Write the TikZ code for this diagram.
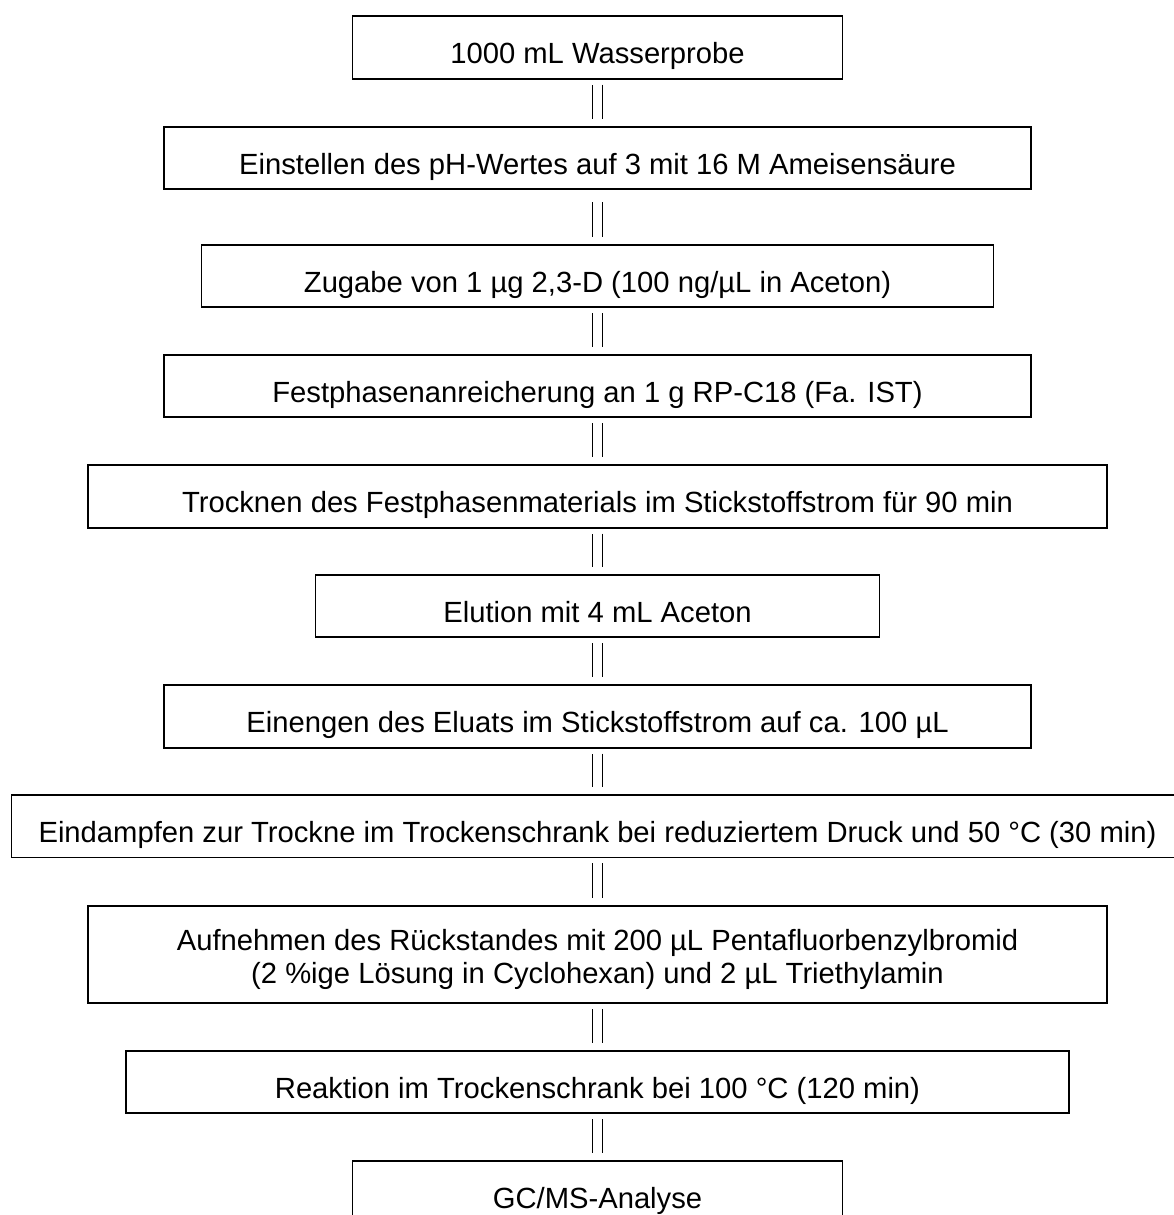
\documentclass[tikz,border=0pt]{standalone}
\usepackage{fontspec}
\setmainfont{Liberation Sans}

\tikzset{
    schritt/.style={draw, line width=1.7pt, minimum height=62.5pt, inner sep=0pt,
        text height=32pt, text depth=0pt, font=\fontsize{29.2}{32.6}\selectfont},
    fluss/.style={double, double distance=9.7pt, line width=1pt, shorten <=5pt, shorten >=7pt}
}

\begin{document}
\begin{tikzpicture}[x=1pt, y=-1pt]
    \useasboundingbox (0,0) rectangle (1174,1215);
    \clip (0,0) rectangle (1174,1215);

    % Arbeitsschritte
    \node[schritt, minimum width=490pt] (probe) at (597.5, 47.4) {1000 mL Wasserprobe};
    \node[schritt, minimum width=867pt] (ph) at (597.5, 158) {Einstellen des pH-Wertes auf 3 mit 16 M Ameisensäure};
    \node[schritt, minimum width=792pt] (zugabe) at (597.5, 276) {Zugabe von 1 µg 2,3-D (100 ng/µL in Aceton)};
    \node[schritt, minimum width=867pt] (spe) at (597.5, 386) {Festphasenanreicherung an 1 g RP-C18 (Fa. IST)};
    \node[schritt, minimum width=1019pt] (trocknen) at (597.5, 496.5) {Trocknen des Festphasenmaterials im Stickstoffstrom für 90 min};
    \node[schritt, minimum width=564pt] (elution) at (597.5, 606) {Elution mit 4 mL Aceton};
    \node[schritt, minimum width=867pt] (einengen) at (597.5, 716.5) {Einengen des Eluats im Stickstoffstrom auf ca. 100 µL};
    \node[schritt, minimum width=1172pt] (eindampfen) at (597.5, 826.3) {Eindampfen zur Trockne im Trockenschrank bei reduziertem Druck und 50 °C (30 min)};
    \node[schritt, minimum width=1019pt, minimum height=97pt, align=center, text height=58pt] (aufnehmen) at (597.5, 954.5)
        {Aufnehmen des Rückstandes mit 200 µL Pentafluorbenzylbromid\\(2 \%ige Lösung in Cyclohexan) und 2 µL Triethylamin};
    \node[schritt, minimum width=943pt] (reaktion) at (597.5, 1082) {Reaktion im Trockenschrank bei 100 °C (120 min)};
    \node[schritt, minimum width=490pt] (gcms) at (597.5, 1192) {GC/MS-Analyse};

    % Verbindungen
    \draw[fluss] (probe) -- (ph);
    \draw[fluss, shorten <=12pt] (ph) -- (zugabe);
    \draw[fluss] (zugabe) -- (spe);
    \draw[fluss] (spe) -- (trocknen);
    \draw[fluss] (trocknen) -- (elution);
    \draw[fluss] (elution) -- (einengen);
    \draw[fluss] (einengen) -- (eindampfen);
    \draw[fluss] (eindampfen) -- (aufnehmen);
    \draw[fluss] (aufnehmen) -- (reaktion);
    \draw[fluss] (reaktion) -- (gcms);
\end{tikzpicture}
\end{document}
